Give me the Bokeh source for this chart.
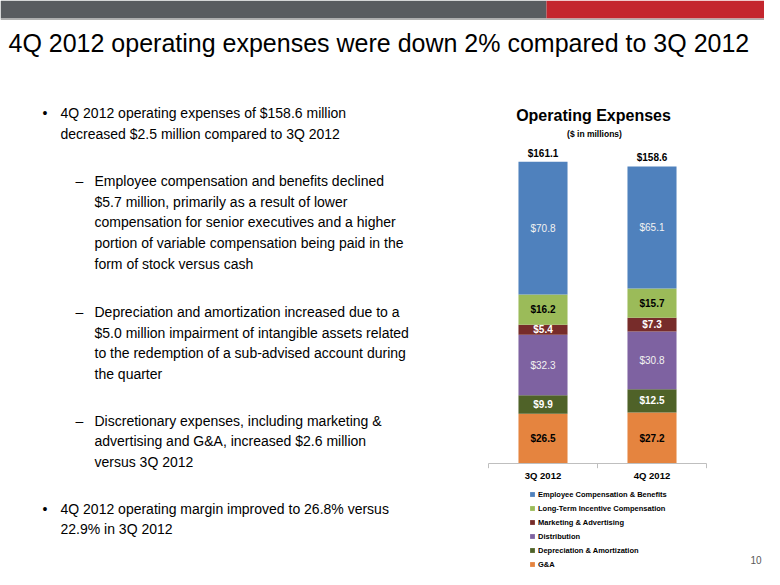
from bokeh.plotting import figure
from bokeh.models import Range1d, ColumnDataSource, Legend, LegendItem
from bokeh.core.properties import value
from bokeh.embed import file_html
from bokeh.resources import INLINE

FONT = "Liberation Sans"

# ---------------- data ----------------
quarters = ["3Q 2012", "4Q 2012"]
ga = [26.5, 27.2]
depreciation = [9.9, 12.5]
distribution = [32.3, 30.8]
marketing = [5.4, 7.3]
lt_incentive = [16.2, 15.7]
employee = [70.8, 65.1]
totals = [161.1, 158.6]

series_keys = ["ga", "dep", "dist", "mkt", "ltic", "emp"]
series_names = ["G&A", "Depreciation & Amortization", "Distribution",
                "Marketing & Advertising", "Long-Term Incentive Compensation",
                "Employee Compensation & Benefits"]
series_values = [ga, depreciation, distribution, marketing, lt_incentive, employee]

# ---------------- styles ----------------
colors = ["#E5843F", "#4F6228", "#7E62A1", "#772C2A", "#9BBB59", "#4F81BD"]
label_colors = ["#000000", "#FFFFFF", "#F2F2F2", "#FFFFFF", "#000000", "#F2F2F2"]
label_styles = ["bold", "bold", "normal", "bold", "bold", "normal"]

slide_title = "4Q 2012 operating expenses were down 2% compared to 3Q 2012"
paragraphs = [
    (0, 112.7, ["4Q 2012 operating expenses of $158.6 million",
                "decreased $2.5 million compared to 3Q 2012"]),
    (1, 180.5, ["Employee compensation and benefits declined",
                "$5.7 million, primarily as a result of lower",
                "compensation for senior executives and a higher",
                "portion of variable compensation being paid in the",
                "form of stock versus cash"]),
    (1, 311.5, ["Depreciation and amortization increased due to a",
                "$5.0 million impairment of intangible assets related",
                "to the redemption of a sub-advised account during",
                "the quarter"]),
    (1, 420.0, ["Discretionary expenses, including marketing &",
                "advertising and G&A, increased $2.6 million",
                "versus 3Q 2012"]),
    (0, 508.0, ["4Q 2012 operating margin improved to 26.8% versus",
                "22.9% in 3Q 2012"]),
]
LINE_H = 20.7

# ---------------- geometry of the page / chart ----------------
W, H = 764, 569
BASE_Y = 463.0        # pixel row of the chart baseline
PX_PER_M = 1.8727     # pixels per $ million
CAT_X0 = 542.5        # pixel column of first category centre
CAT_STEP = 109.0      # pixels between category centres

p = figure(width=W, height=H, x_range=Range1d(0, W), y_range=Range1d(H, 0),
           output_backend="svg", toolbar_location=None,
           x_axis_location=None, y_axis_location=None,
           min_border=0, outline_line_color=None,
           background_fill_color="white", border_fill_color="white")
p.xgrid.visible = False
p.ygrid.visible = False
p.extra_x_ranges = {"q": Range1d((0 - CAT_X0) / CAT_STEP, (W - CAT_X0) / CAT_STEP)}
p.extra_y_ranges = {"val": Range1d((BASE_Y - H) / PX_PER_M, BASE_Y / PX_PER_M)}

# ---------------- banner + title ----------------
p.quad(left=[0], right=[546], top=[0], bottom=[18], fill_color="#595C60", line_color=None)
p.quad(left=[546], right=[W], top=[0], bottom=[18], fill_color="#C4262E", line_color=None)
p.quad(left=[0], right=[W], top=[18], bottom=[19.5], fill_color="#B0B0B0", line_color=None)
p.text(x=[8], y=[42], text=[slide_title], text_font=value(FONT), text_font_size="25px",
       text_baseline="middle", text_align="left", text_color="#000000")

# ---------------- bullets ----------------
xs, ys, ts, mx, my, mt = [], [], [], [], [], []
for level, y0, lines in paragraphs:
    mx.append(42 if level == 0 else 75)
    my.append(y0)
    mt.append("\u2022" if level == 0 else "\u2013")
    for i, ln in enumerate(lines):
        xs.append(60 if level == 0 else 94)
        ys.append(y0 + i * LINE_H)
        ts.append(ln)
p.text(x=xs, y=ys, text=ts, text_font=value(FONT), text_font_size="14px",
       text_baseline="middle", text_align="left", text_color="#000000")
p.text(x=mx, y=my, text=mt, text_font=value(FONT), text_font_size="14px",
       text_baseline="middle", text_align="left", text_color="#000000")

# ---------------- stacked bar chart ----------------
qpos = list(range(len(quarters)))
data = {"x": qpos, "q": quarters}
for k, v in zip(series_keys, series_values):
    data[k] = v
src = ColumnDataSource(data)

rs = p.vbar_stack(series_keys, x="x", width=0.45, fill_color=colors, line_color=None,
                  source=src, x_range_name="q", y_range_name="val")

bottoms = [0.0 for _ in quarters]
for i, vals in enumerate(series_values):
    mids = [b + v / 2 for b, v in zip(bottoms, vals)]
    s = ColumnDataSource(dict(x=qpos, y=mids, t=[f"${v:.1f}" for v in vals]))
    p.text(x="x", y="y", text="t", source=s, text_align="center",
           text_baseline="middle", text_font=value(FONT), text_font_size="10px",
           text_font_style=label_styles[i], text_color=label_colors[i],
           x_range_name="q", y_range_name="val")
    bottoms = [b + v for b, v in zip(bottoms, vals)]

tsrc = ColumnDataSource(dict(x=qpos, y=totals, t=[f"${v:.1f}" for v in totals]))
p.text(x="x", y="y", text="t", source=tsrc, text_align="center",
       text_baseline="bottom", y_offset=-3, text_font=value(FONT),
       text_font_size="10px", text_font_style="bold", text_color="#000000",
       x_range_name="q", y_range_name="val")

# category axis (baseline, boundary ticks, labels)
edges = [qpos[0] - 0.5] + [q + 0.5 for q in qpos]
p.segment(x0=[edges[0]], x1=[edges[-1]], y0=[0], y1=[0], line_color="#BFBFBF",
          line_width=1, x_range_name="q", y_range_name="val")
p.segment(x0=edges, x1=edges, y0=[0] * len(edges), y1=[-2.5] * len(edges),
          line_color="#BFBFBF", line_width=1, x_range_name="q", y_range_name="val")
csrc = ColumnDataSource(dict(x=qpos, y=[0] * len(qpos), t=quarters))
p.text(x="x", y="y", text="t", source=csrc, text_align="center", text_baseline="middle",
       y_offset=12, text_font=value(FONT), text_font_size="9.5px",
       text_font_style="bold", text_color="#000000",
       x_range_name="q", y_range_name="val")

# chart titles
p.text(x=[593], y=[115], text=["Operating Expenses"], text_align="center",
       text_baseline="middle", text_font=value(FONT), text_font_size="16px",
       text_font_style="bold", text_color="#000000")
p.text(x=[594], y=[133], text=["($ in millions)"], text_align="center",
       text_baseline="middle", text_font=value(FONT), text_font_size="8.5px",
       text_font_style="bold", text_color="#000000")

# page number
p.text(x=[761], y=[559], text=["10"], text_align="right", text_baseline="middle",
       text_font=value(FONT), text_font_size="10px", text_color="#595959")

items = [LegendItem(label=n, renderers=[r]) for n, r in zip(series_names, rs)][::-1]
legend = Legend(items=items, location=(529, -2), margin=0, padding=0, spacing=0,
                label_height=14, glyph_height=6, glyph_width=6, label_standoff=3,
                label_text_font=FONT, label_text_font_size="7.5px",
                label_text_font_style="bold", label_text_color="#000000",
                border_line_color=None, background_fill_alpha=0)
p.add_layout(legend, "center")

with open("out.html", "w") as fh:
    fh.write(file_html(p, INLINE))
